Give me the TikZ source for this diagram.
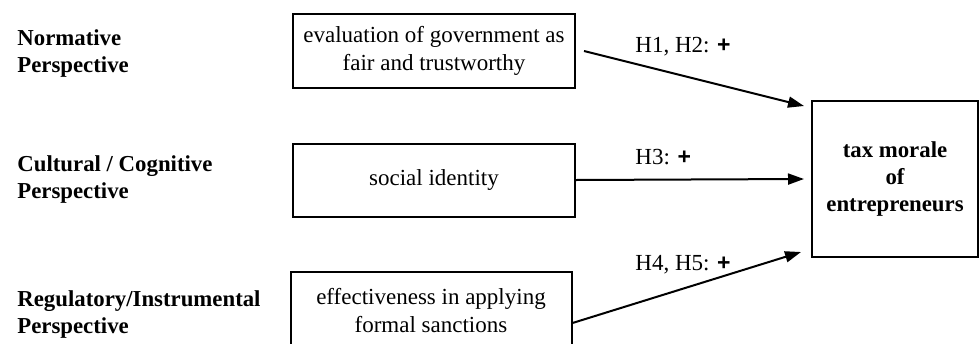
\documentclass[tikz,border=0pt]{standalone}
\usepackage{fontspec}
\setmainfont{Liberation Serif}
\newfontfamily\plusfont{Liberation Sans}
\usetikzlibrary{arrows.meta,positioning,calc}

\newcommand{\pos}{{\plusfont\bfseries +}}

\begin{document}
\begin{tikzpicture}[x=0.5pt, y=-0.5pt, font=\fontsize{11.5}{14}\selectfont,
    box/.style={draw, line width=1pt, align=center, inner sep=0pt},
    persp/.style={right, align=left, inner sep=0pt, font=\fontsize{11.4}{13.5}\selectfont\bfseries},
    hyp/.style={right, inner sep=0pt},
    link/.style={-{Triangle[length=8pt,width=5.5pt]}, line width=1pt}]
    \useasboundingbox (0,0) rectangle (979,343);

    % Perspectives
    \node[persp] (norm) at (17,54) {Normative\\Perspective};
    \node[persp] (cult) at (17,180) {Cultural / Cognitive\\Perspective};
    \node[persp] (regul) at (17,315) {Regulatory/Instrumental\\Perspective};

    % Determinants
    \node[box, minimum width=141pt, minimum height=37pt] (eval) at (434,51) {evaluation of government as\\fair and trustworthy};
    \node[box, minimum width=141pt, minimum height=36.5pt] (ident) at (434,180) {social identity};
    \node[box, minimum width=140.5pt, minimum height=39pt] (sanct) at (431,311) {effectiveness in applying\\formal sanctions};

    % Outcome
    \node[box, minimum width=83pt, minimum height=78pt, font=\fontsize{11.4}{13.5}\selectfont\bfseries] (morale) at (895,179) {tax morale\\of\\entrepreneurs};

    % Hypotheses
    \draw[link] ([xshift=4pt]eval.east) -- ([xshift=-3.5pt,yshift=36.5pt]morale.west);
    \draw[link] (ident.east) -- ([xshift=-3.5pt]morale.west);
    \draw[link] ([yshift=-6pt]sanct.east) -- ([xshift=-5pt,yshift=-36.5pt]morale.west);
    \node[hyp] (h12) at (635,47) {H1, H2: \pos};
    \node[hyp] (h3) at (635,157) {H3: \pos};
    \node[hyp] (h45) at (635,265) {H4, H5: \pos};
\end{tikzpicture}
\end{document}
